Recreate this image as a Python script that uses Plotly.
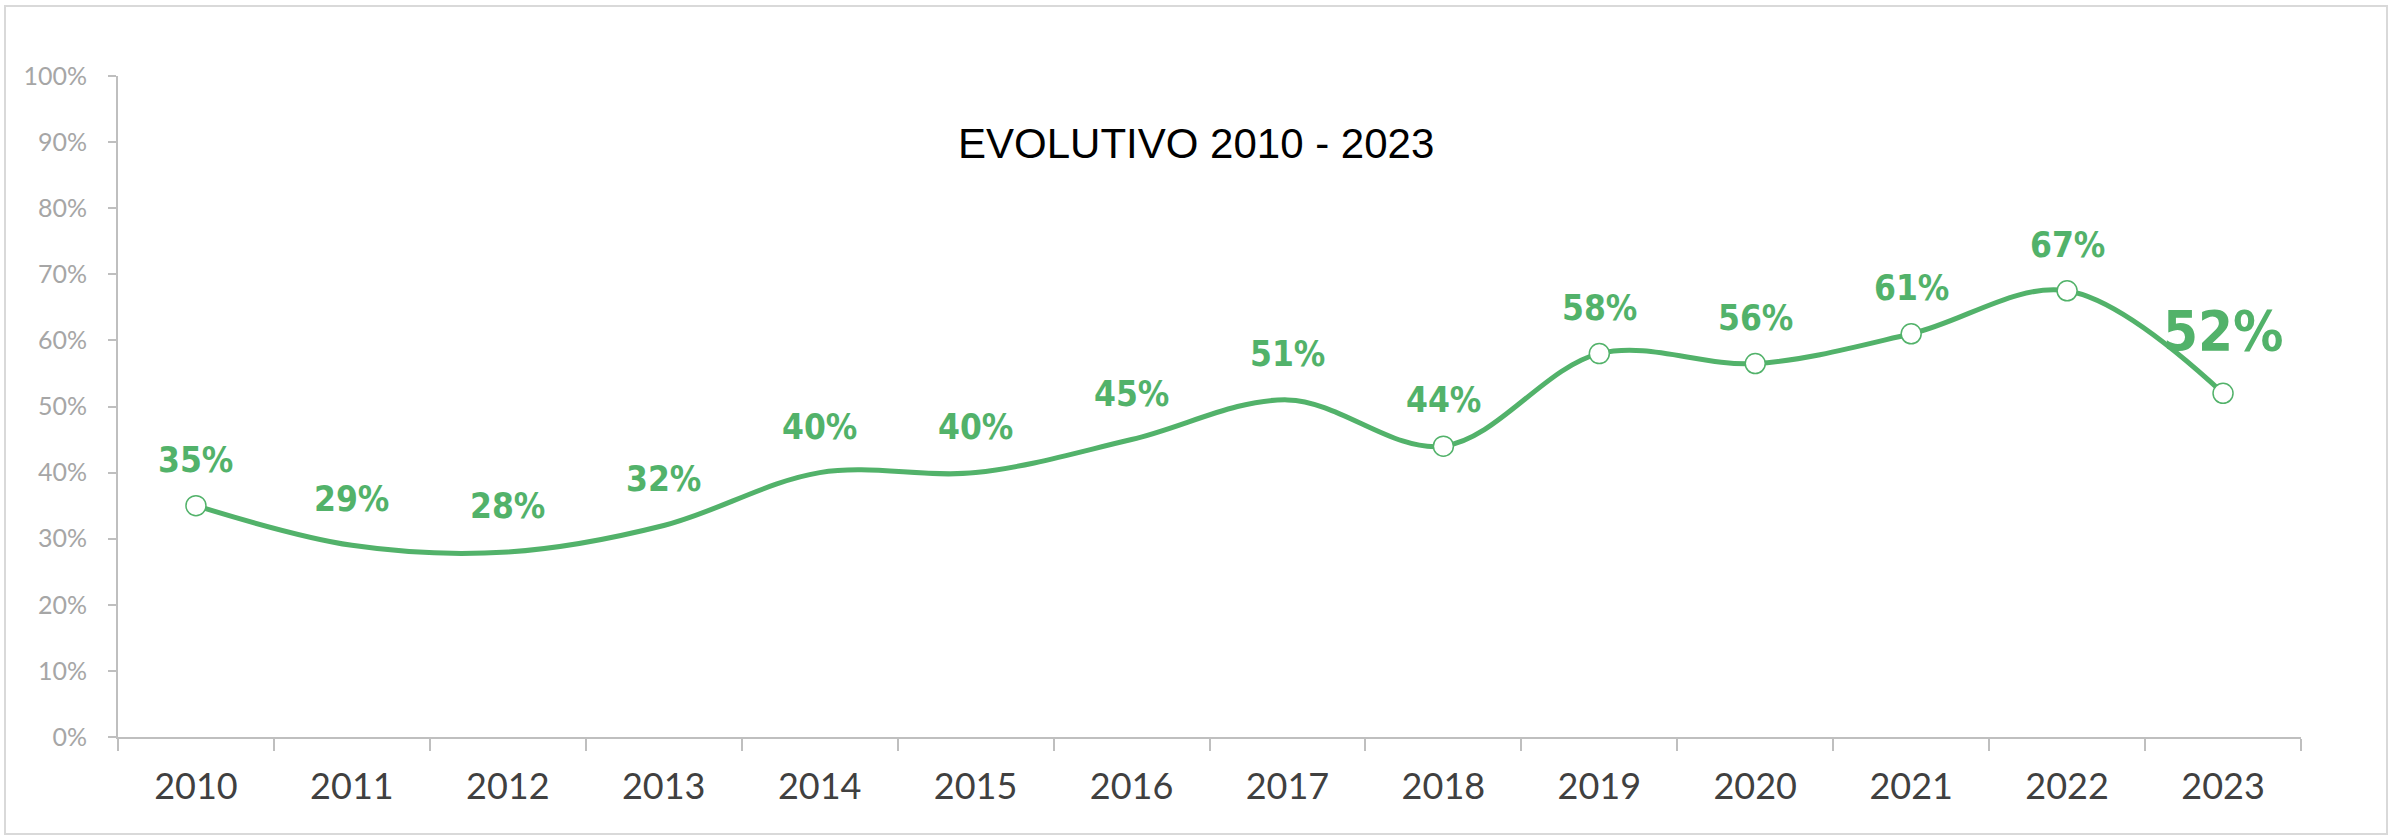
import plotly.graph_objects as go

# ---- data ----
years = ["2010", "2011", "2012", "2013", "2014", "2015", "2016",
         "2017", "2018", "2019", "2020", "2021", "2022", "2023"]
values = [0.35, 0.29, 0.28, 0.32, 0.40, 0.40, 0.45,
          0.51, 0.44, 0.58, 0.565, 0.61, 0.675, 0.52]
labels = ["35%", "29%", "28%", "32%", "40%", "40%", "45%",
          "51%", "44%", "58%", "56%", "61%", "67%", "52%"]
marked_years = ["2010", "2018", "2019", "2020", "2021", "2022", "2023"]
highlight_year = "2023"
title_text = "EVOLUTIVO 2010 - 2023"

# ---- style ----
W, H = 2397, 835
GREEN = "#52b26a"
AXIS = "#bfbfbf"
ML, MR, MT, MB = 118, 96, 76, 98
LABEL_FONT = "DejaVu Sans"

fig = go.Figure()
fig.add_trace(go.Scatter(
    x=years, y=values, mode="lines",
    line=dict(color=GREEN, width=5, shape="spline", smoothing=1.0),
    hoverinfo="skip", showlegend=False,
))
mx = [y for y in years if y in marked_years]
my = [v for y, v in zip(years, values) if y in marked_years]
fig.add_trace(go.Scatter(
    x=mx, y=my, mode="markers",
    marker=dict(size=20, color="white", line=dict(color=GREEN, width=1.5)),
    hoverinfo="skip", showlegend=False,
))

for i, (yr, v, lab) in enumerate(zip(years, values, labels)):
    big = yr == highlight_year
    fig.add_annotation(
        x=i, y=v, xref="x", yref="y",
        text=f"<span style='font-stretch:condensed;font-weight:bold'>{lab}</span>",
        showarrow=False, yanchor="middle", xanchor="center",
        yshift=63 if big else 46,
        font=dict(family=LABEL_FONT, size=56 if big else 35, color=GREEN),
    )

pw = W - ML - MR
ph = H - MT - MB
# title
fig.add_annotation(
    x=(1196 - ML) / pw, y=(H - MB - 143) / ph, xref="paper", yref="paper",
    text=title_text, showarrow=False, xanchor="center", yanchor="middle",
    font=dict(family="Liberation Sans, Arial, sans-serif", size=42, color="#000000"),
)
# outer border
fig.add_shape(
    type="rect", xref="paper", yref="paper",
    x0=(5 - ML) / pw, x1=(2387 - ML) / pw,
    y0=(H - MB - 834) / ph, y1=(H - MB - 6) / ph,
    line=dict(color="#d9d9d9", width=2), fillcolor="rgba(0,0,0,0)", layer="below",
)

fig.update_layout(
    width=W, height=H,
    margin=dict(l=ML, r=MR, t=MT, b=MB),
    paper_bgcolor="white", plot_bgcolor="white",
    showlegend=False,
)
fig.update_xaxes(
    type="category", range=[-0.5, len(years) - 0.5],
    showline=True, linecolor=AXIS, linewidth=2,
    ticks="outside", tickson="boundaries", ticklen=12, tickcolor=AXIS, tickwidth=2,
    showgrid=False, zeroline=False,
    tickfont=dict(family="Lato, sans-serif", size=36, color="#404040"),
    ticklabelstandoff=17,
)
fig.update_yaxes(
    range=[0, 1], dtick=0.1, tickformat=".0%",
    showline=True, linecolor=AXIS, linewidth=2,
    ticks="outside", ticklen=8, tickcolor=AXIS, tickwidth=2,
    showgrid=False, zeroline=False,
    tickfont=dict(family="Lato, sans-serif", size=25, color="#a6a6a6"),
    ticklabelstandoff=16,
)

fig.write_html("out.html", config={"displayModeBar": False},
               post_script="document.body.style.margin='0';")
